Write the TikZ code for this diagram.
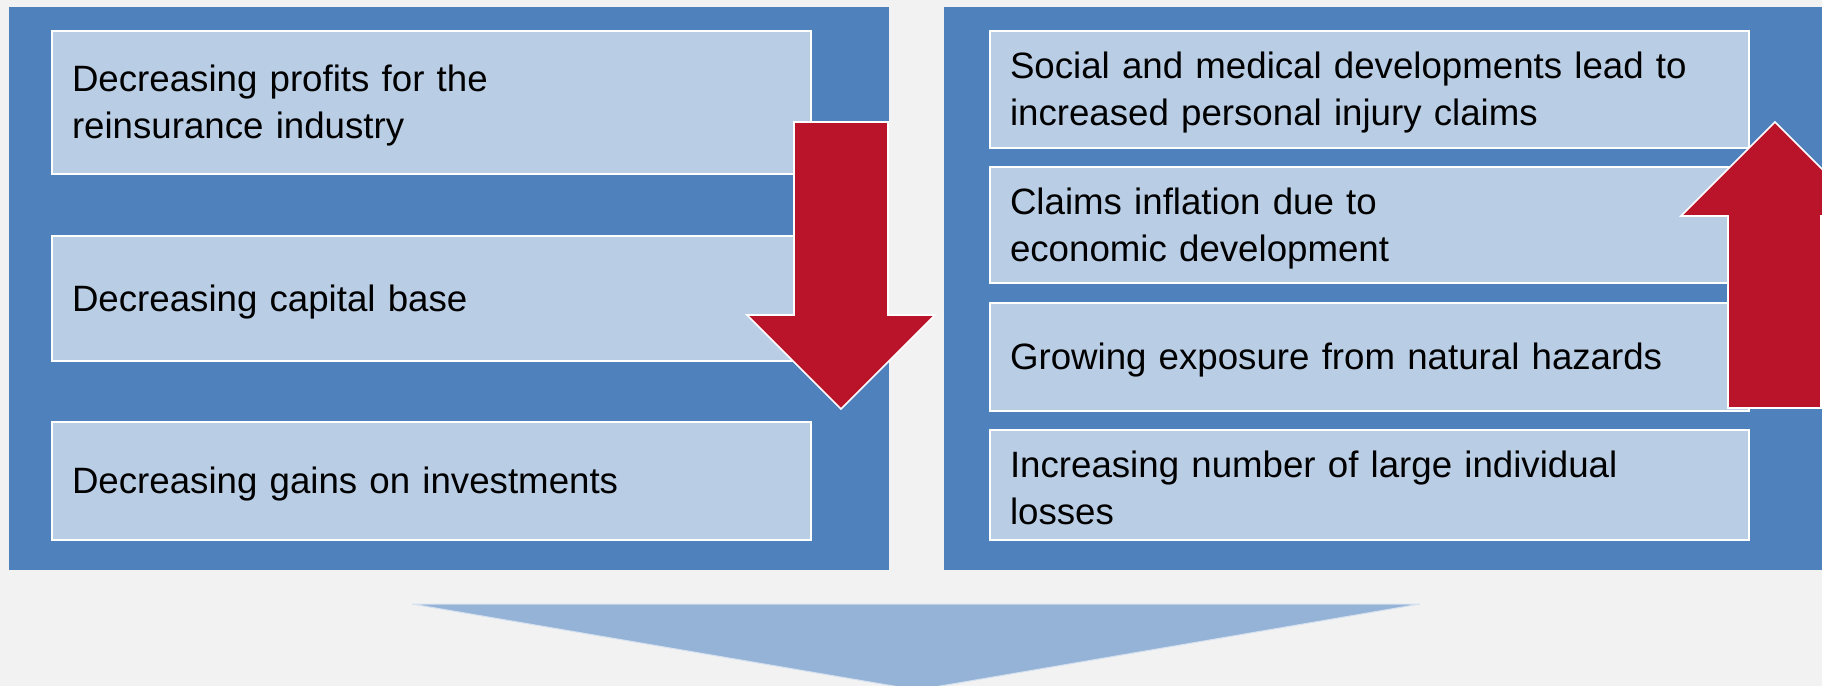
\documentclass[tikz,border=0pt]{standalone}
\usepackage{fontspec}
\setmainfont{Liberation Sans}
\usepackage{xcolor}
\usepackage{tikz}
\definecolor{bg}{HTML}{F2F2F2}
\definecolor{panel}{HTML}{4F81BD}
\definecolor{boxfill}{HTML}{B9CDE5}
\definecolor{arrowred}{HTML}{BA142A}
\definecolor{chev}{HTML}{95B3D7}
\tikzset{
  panelbg/.style={fill=panel},
  item/.style={draw=white, line width=0.6pt, fill=boxfill, anchor=north west,
    minimum width=227.7pt, text width=215.7pt, inner xsep=6pt, align=left,
    font=\fontsize{11}{14.1}\selectfont, text=black,
    execute at begin node=\rule{0pt}{10pt}},
  bigarrow/.style={fill=arrowred, draw=white, line width=0.5pt},
  chevron/.style={fill=chev, draw=chev!40!white, line width=0.3pt}
}

\begin{document}
\begin{tikzpicture}[x=0.3pt, y=-0.3pt]
  \useasboundingbox[fill=bg] (0,0) rectangle (1822,686);

  % panels
  \fill[panelbg] (9,7) rectangle (889,570);
  \fill[panelbg] (944,7) rectangle (1830,570);

  % left side
  \node[item, minimum height=42.9pt] (L1) at (51,30) {Decreasing profits for the\\reinsurance industry};
  \node[item, minimum height=37.5pt] (L2) at (51,235) {Decreasing capital base};
  \node[item, minimum height=35.4pt] (L3) at (51,421) {Decreasing gains on investments};

  % right side
  \node[item, minimum height=35.1pt] (R1) at (989,30) {Social and medical developments lead to\\increased personal injury claims};
  \node[item, minimum height=34.8pt] (R2) at (989,166) {Claims inflation due to\\economic development};
  \node[item, minimum height=32.4pt] (R3) at (989,302) {Growing exposure from natural hazards};
  \node[item, minimum height=33pt] (R4) at (989,429) {Increasing number of large individual\\losses};

  % red arrows
  \draw[bigarrow] (794,122) -- (888,122) -- (888,315) -- (935,315) -- (841,409)
    -- (747,315) -- (794,315) -- cycle;
  \draw[bigarrow] (1775,122) -- (1869,216) -- (1821,216) -- (1821,408)
    -- (1728,408) -- (1728,216) -- (1681,216) -- cycle;

  % bottom chevron
  \draw[chevron] (412,604) -- (1420,604) -- (917,690) -- cycle;
\end{tikzpicture}
\end{document}
